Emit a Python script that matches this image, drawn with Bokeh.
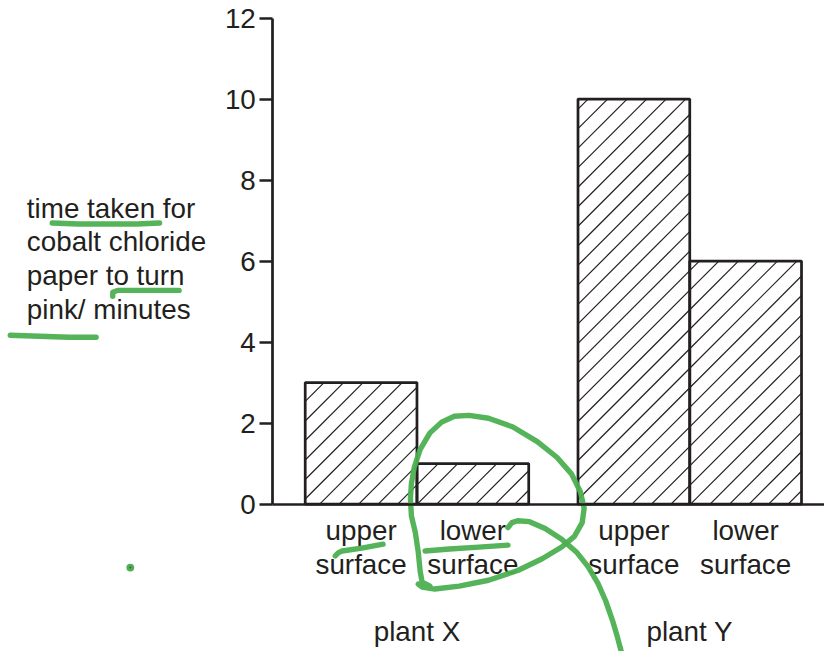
from bokeh.plotting import figure
from bokeh.models import Range1d, LinearAxis, FixedTicker
from bokeh.core.properties import value
from bokeh.embed import file_html
from bokeh.resources import INLINE

# ---------------- data ----------------
plants = ["plant X", "plant Y"]
surfaces = ["upper surface", "lower surface"]
surface_lines = [["upper", "surface"], ["lower", "surface"]]
times_plant_x = [3, 1]
times_plant_y = [10, 6]
y_ticks = [0, 2, 4, 6, 8, 10, 12]
y_label_lines = ["time taken for", "cobalt chloride", "paper to turn", "pink/ minutes"]

# ---------------- layout / style ----------------
W, H = 824, 651
S = H / 667.0                    # uniform scale from the 840x667 reference
FONT = "Liberation Sans"
FS = "%.1fpx" % (28.5 * S)
INK = "#231f20"
GREEN = "#4caf50"
AX_X, AX_Y = 279.0, 516.0        # reference-pixel position of the origin
PX_X, PX_Y = 114.5, 41.5         # reference pixels per data unit
FIRST_BAR = 0.79                 # centre of the first bar (data units)
GROUP_STRIDE = 2.441             # distance between plant groups
BAR_W = 1.0
TXT_SHIFT = 10                   # baseline correction (reference px)
HATCH_STEP = 20.0                # 45-degree hatch spacing (reference px)
HATCH_PHASE = 3.0

def dx(sx):
    return (sx - AX_X) / PX_X

def dy(sy):
    return (AX_Y - sy) / PX_Y

def sxv(x):
    return AX_X + x * PX_X

def syv(y):
    return AX_Y - y * PX_Y

p = figure(width=W, height=H, output_backend="svg", toolbar_location=None,
           x_axis_type=None, y_axis_type=None, min_border=0,
           x_range=Range1d(dx(0), dx(W / S)), y_range=Range1d(dy(H / S), dy(0)))
p.outline_line_color = None
p.xgrid.visible = False
p.ygrid.visible = False
p.background_fill_color = "white"
p.border_fill_color = "white"

# bar positions
xs, tops = [], []
for gi, vals in enumerate([times_plant_x, times_plant_y]):
    for si, v in enumerate(vals):
        xs.append(FIRST_BAR + gi * GROUP_STRIDE + si * BAR_W)
        tops.append(v)

# 45-degree hatching clipped to each bar (computed from the bar geometry)
hx0, hy0, hx1, hy1 = [], [], [], []
for x, v in zip(xs, tops):
    L, R = sxv(x - BAR_W / 2), sxv(x + BAR_W / 2)
    T, B = syv(v), syv(0)
    k0 = int((L + T - HATCH_PHASE) // HATCH_STEP)
    k1 = int((R + B - HATCH_PHASE) // HATCH_STEP) + 1
    for k in range(k0, k1 + 1):
        c = HATCH_PHASE + k * HATCH_STEP
        lo, hi = max(L, c - B), min(R, c - T)
        if hi - lo > 0.5:
            hx0.append(dx(lo)); hy0.append(dy(c - lo))
            hx1.append(dx(hi)); hy1.append(dy(c - hi))

p.vbar(x=xs, top=tops, bottom=0, width=BAR_W, fill_color="white", line_color=None)
p.segment(x0=hx0, y0=hy0, x1=hx1, y1=hy1, line_color=INK, line_width=1.2)
p.vbar(x=xs, top=tops, bottom=0, width=BAR_W, fill_color=None,
       line_color=INK, line_width=2.8 * S)

# axes
yax = LinearAxis(fixed_location=0, bounds=(0, 12), ticker=FixedTicker(ticks=y_ticks, minor_ticks=[]))
yax.axis_line_color = INK
yax.axis_line_width = 2.8 * S
yax.major_tick_line_color = INK
yax.major_tick_line_width = 2.8 * S
yax.major_tick_out = round(13 * S)
yax.major_tick_in = 0
yax.minor_tick_line_color = None
yax.major_label_standoff = 4
yax.major_label_text_font = FONT
yax.major_label_text_font_size = FS
yax.major_label_text_color = INK
p.add_layout(yax, "left")

xax = LinearAxis(fixed_location=0, bounds=(0, dx(W / S) + 1), ticker=FixedTicker(ticks=[]))
xax.axis_line_color = INK
xax.axis_line_width = 2.8 * S
xax.major_tick_line_color = None
xax.minor_tick_line_color = None
xax.major_label_text_font_size = "0px"
p.add_layout(xax, "below")

# category labels
tx, ty, tt = [], [], []
for i, x in enumerate(xs):
    lines = surface_lines[i % 2]
    tx += [x, x]
    ty += [dy(553 - TXT_SHIFT), dy(588 - TXT_SHIFT)]
    tt += lines
p.text(x=tx, y=ty, text=tt, text_align="center", text_baseline="alphabetic",
       text_font=value(FONT), text_font_size=FS, text_color=INK)

gx = [(xs[0] + xs[1]) / 2, (xs[2] + xs[3]) / 2]
p.text(x=gx, y=[dy(657 - TXT_SHIFT)] * 2, text=plants, text_align="center", text_baseline="alphabetic",
       text_font=value(FONT), text_font_size=FS, text_color=INK)

# y label
p.text(x=[dx(27)] * 4, y=[dy(223 - TXT_SHIFT + i * 34.4) for i in range(4)], text=y_label_lines,
       text_align="left", text_baseline="alphabetic",
       text_font=value(FONT), text_font_size=FS, text_color=INK)

# hand-drawn green pen annotations (reference-pixel strokes)
strokes = [
    [(53, 228), (80, 229), (110, 229), (140, 229), (163, 228)],
    [(115, 303), (115, 299), (120, 297), (150, 297), (183, 297)],
    [(10, 343), (40, 344), (70, 345), (98, 345)],
    [(343, 569), (346, 566), (350, 564), (370, 561), (392, 557)],
    [(435, 564), (460, 562), (490, 560), (520, 558)],
    [(440, 600), (432, 596), (430, 585), (428, 565), (425, 545), (421, 528), (420, 510),
     (421, 495), (424, 478), (430, 460), (440, 443), (452, 432), (465, 426), (480, 425),
     (500, 428), (525, 437), (550, 452), (570, 468), (585, 485), (594, 503), (598, 520),
     (596, 535), (588, 549), (575, 560), (555, 572), (530, 584), (500, 594), (470, 600),
     (445, 603), (432, 601), (428, 598)],
    [(520, 540), (524, 535), (530, 533), (542, 534), (558, 541), (575, 552), (590, 565),
     (602, 580), (612, 597), (620, 615), (627, 635), (632, 652), (636, 667)],
]
for s in strokes:
    p.line(x=[dx(a) for a, b in s], y=[dy(b) for a, b in s], line_color=GREEN,
           line_width=5.5 * S, line_cap="round", line_join="round", line_alpha=0.95)
p.scatter(x=[dx(133)], y=[dy(581)], size=8 * S, fill_color=GREEN, line_color=None)
p.scatter(x=[dx(133)], y=[dy(581)], size=2, fill_color="#555555", line_color=None)

open("out.html", "w").write(file_html(p, INLINE))
